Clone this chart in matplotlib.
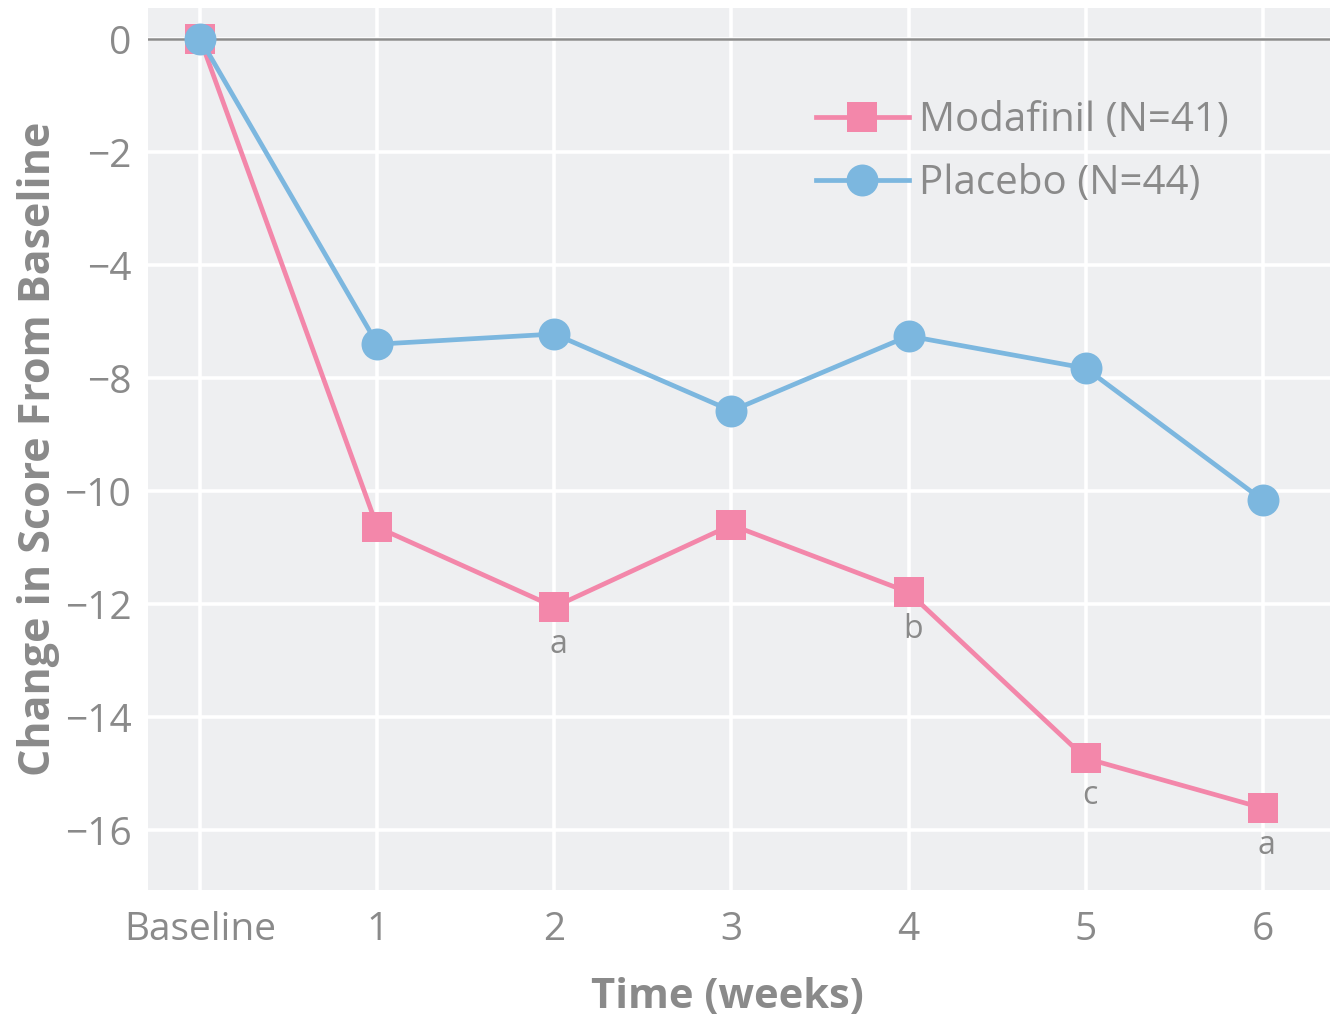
import numpy as np
import matplotlib
matplotlib.use("Agg")
import matplotlib.pyplot as plt

# Data: change in score from baseline by week
weeks = [0, 1, 2, 3, 4, 5, 6]
week_labels = ["Baseline", "1", "2", "3", "4", "5", "6"]
modafinil = [0.0, -10.64, -12.05, -10.60, -11.79, -14.73, -15.61]
placebo = [0.0, -6.80, -6.44, -8.58, -6.51, -7.65, -10.16]
significance = {2: "a", 4: "b", 5: "c", 6: "a"}
y_ticks = [0, -2, -4, -8, -10, -12, -14, -16]

PINK = "#f387aa"
BLUE = "#7cb7df"
GRAY = "#8a8a8a"
BG = "#eeeff1"

plt.rcParams["font.family"] = ["Open Sans", "DejaVu Sans"]


# The value axis is drawn with equal spacing between its labelled ticks,
# so the -4 to -8 step occupies the same height as the 2-point steps.
def forward(v):
    v = np.asarray(v, dtype=float)
    return np.where(v >= -4, v / 2.0,
                    np.where(v >= -8, -2.0 + (v + 4.0) / 4.0,
                             -3.0 + (v + 8.0) / 2.0))


def inverse(u):
    u = np.asarray(u, dtype=float)
    return np.where(u >= -2, 2.0 * u,
                    np.where(u >= -3, -4.0 + 4.0 * (u + 2.0),
                             -8.0 + 2.0 * (u + 3.0)))


fig = plt.figure(figsize=(13.3, 10.15), dpi=100)
ax = fig.add_axes([0.1113, 0.1232, 0.8887, 0.8689])
ax.set_facecolor(BG)
ax.set_yscale("function", functions=(forward, inverse))

ax.set_xlim(-0.295, 6.38)
ax.set_ylim(-17.06, 0.55)

ax.set_yticks(y_ticks)
ax.set_yticklabels([str(t).replace("-", "\u2212") for t in y_ticks])
ax.set_xticks(weeks)
ax.set_xticklabels(week_labels)

ax.grid(True, color="white", linewidth=2.6)
ax.set_axisbelow(True)
for s in ax.spines.values():
    s.set_visible(False)
ax.tick_params(length=0, colors=GRAY, labelsize=28)
ax.tick_params(axis="y", pad=12)
ax.tick_params(axis="x", pad=15)

ax.axhline(0, color="#8c8c8c", linewidth=1.8, zorder=1.5)

ax.plot(weeks, modafinil, color=PINK, linewidth=3.4, marker="s",
        markersize=22, markeredgewidth=0, label="Modafinil (N=41)", zorder=3)
ax.plot(weeks, placebo, color=BLUE, linewidth=3.4, marker="o",
        markersize=23, markeredgewidth=0, label="Placebo (N=44)", zorder=4)

for wk, letter in significance.items():
    ax.annotate(letter, (weeks[wk], modafinil[wk]), xytext=(3, -27),
                textcoords="offset points", ha="center", va="center",
                fontsize=23, color=GRAY)

leg = ax.legend(loc="upper left", bbox_to_anchor=(0.548, 0.918),
                frameon=False, fontsize=29, handlelength=2.3,
                handletextpad=0.25, labelspacing=0.57, borderpad=0)
for t in leg.get_texts():
    t.set_color(GRAY)

ax.set_xlabel("Time (weeks)", fontsize=30, fontweight="bold", color=GRAY,
              labelpad=20)
ax.xaxis.label.set_x(0.49)
ax.set_ylabel("Change in Score From Baseline", fontsize=31,
              fontweight="bold", color=GRAY, labelpad=3)

fig.savefig("out.png", dpi=100, facecolor="white")
